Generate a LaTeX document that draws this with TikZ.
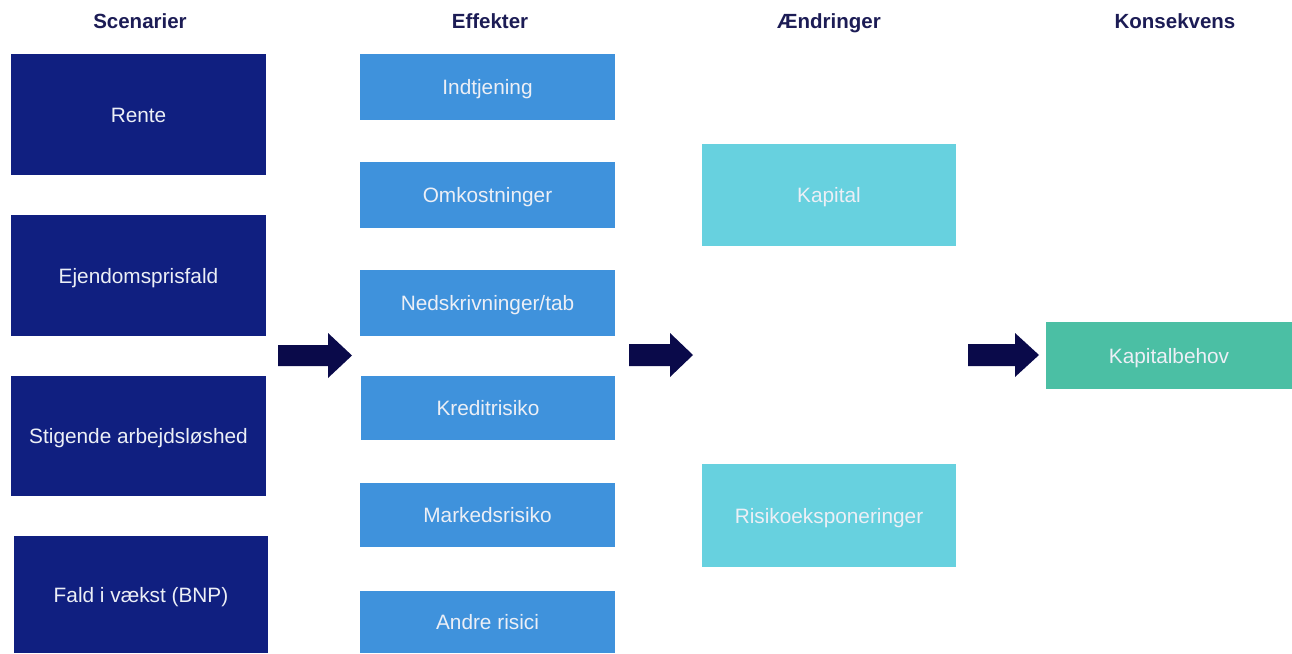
\documentclass[tikz,border=0pt]{standalone}
\usepackage{fontspec}
\setmainfont{Liberation Sans}
\definecolor{navy}{HTML}{101F80}
\definecolor{effblue}{HTML}{3F92DC}
\definecolor{cyanbox}{HTML}{67D1DF}
\definecolor{greenbox}{HTML}{4BBFA4}
\definecolor{arrowc}{HTML}{0A0A4A}
\definecolor{headc}{HTML}{1C1C55}
\definecolor{lbl}{HTML}{ECEFF6}
\begin{document}
\begin{tikzpicture}[x=1pt,y=-1pt,
  boxbase/.style={rectangle, inner sep=0pt, draw=none, text=lbl,
    text height=15pt, text depth=0pt,
    font=\fontsize{20.8}{24}\selectfont},
  scen/.style={boxbase, fill=navy},
  eff/.style={boxbase, fill=effblue},
  aend/.style={boxbase, fill=cyanbox},
  kons/.style={boxbase, fill=greenbox},
  head/.style={text=headc, anchor=base, inner sep=0pt, font=\fontsize{20.5}{24}\selectfont\bfseries},
  blockarrow/.style={fill=arrowc, draw=none}]
\useasboundingbox (0,0) rectangle (1292,653);
\fill[white] (0,0) rectangle (1292,653);
% headers
\node[head] (h1) at (140,28) {Scenarier};
\node[head] (h2) at (490,28) {Effekter};
\node[head] (h3) at (829,28) {Ændringer};
\node[head] (h4) at (1175,28) {Konsekvens};
% Scenarier
\node[scen, minimum width=255, minimum height=121] (s1) at (138.5,114.5) {Rente};
\node[scen, minimum width=255, minimum height=121] (s2) at (138.5,275.5) {Ejendomsprisfald};
\node[scen, minimum width=255, minimum height=120] (s3) at (138.5,436) {Stigende arbejdsløshed};
\node[scen, minimum width=254, minimum height=117] (s4) at (141,594.5) {Fald i vækst (BNP)};
% Effekter
\node[eff, minimum width=255, minimum height=66] (e1) at (487.5,87) {Indtjening};
\node[eff, minimum width=255, minimum height=66] (e2) at (487.5,195) {Omkostninger};
\node[eff, minimum width=255, minimum height=66] (e3) at (487.5,303) {Nedskrivninger/tab};
\node[eff, minimum width=254, minimum height=64] (e4) at (488,408) {Kreditrisiko};
\node[eff, minimum width=255, minimum height=64] (e5) at (487.5,515) {Markedsrisiko};
\node[eff, minimum width=255, minimum height=62] (e6) at (487.5,622) {Andre risici};
% Ændringer
\node[aend, minimum width=254, minimum height=102] (a1) at (829,195) {Kapital};
\node[aend, minimum width=254, minimum height=103] (a2) at (829,515.5) {Risikoeksponeringer};
% Konsekvens
\node[kons, minimum width=246, minimum height=67] (k1) at (1169,355.5) {Kapitalbehov};
% block arrows
\fill[blockarrow] (278,345) -- (328,345) -- (328,333) -- (352,355.5) -- (328,378) -- (328,366) -- (278,366) -- cycle;
\fill[blockarrow] (629,344) -- (670,344) -- (670,333) -- (693,355) -- (670,377) -- (670,366) -- (629,366) -- cycle;
\fill[blockarrow] (968,344) -- (1015,344) -- (1015,333) -- (1039,355) -- (1015,377) -- (1015,366) -- (968,366) -- cycle;
\end{tikzpicture}
\end{document}
